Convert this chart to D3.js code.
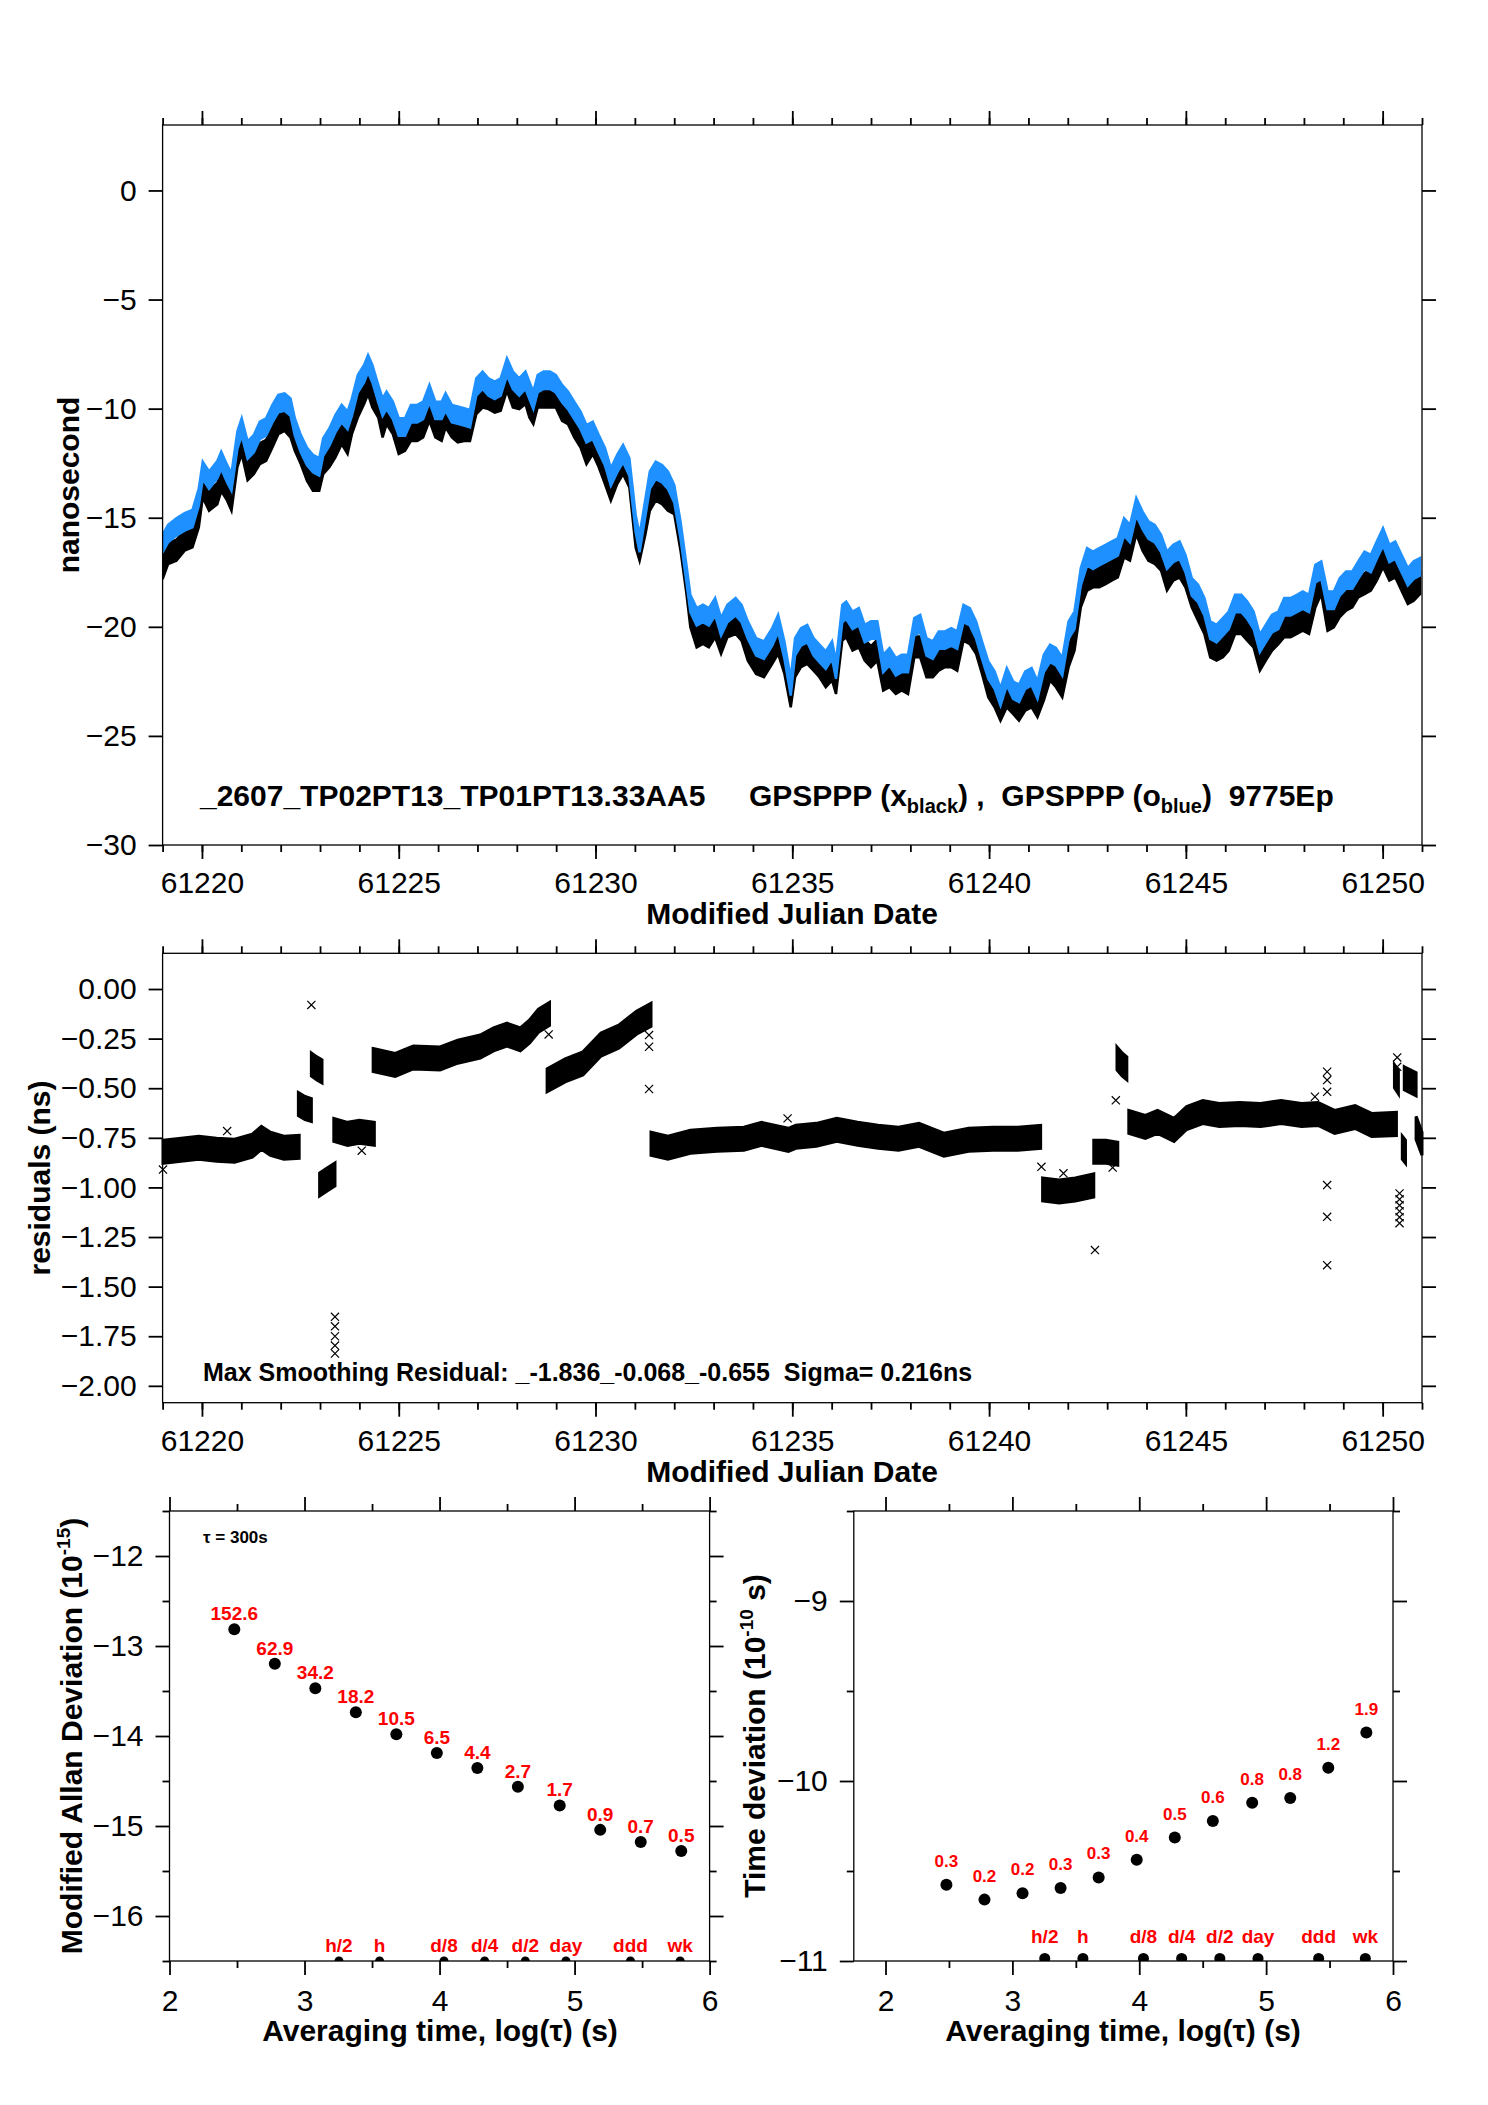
<!DOCTYPE html>
<html>
<head>
<meta charset="utf-8">
<script src="https://cdn.jsdelivr.net/npm/d3@7"></script>
<style>
  body { margin: 0; background: #fff; }
  svg { display: block; font-family: "Liberation Sans", Arial, Helvetica, sans-serif; }
  .bold { font-weight: bold; }
</style>
</head>
<body>
<svg id="chart" width="1488" height="2105"></svg>
<script>
// ---- top panel: clock offsets (ns) ----
const topDays = [
  61219.00,61219.14,61219.35,61219.56,61219.76,61219.92,61220.02,61220.18,61220.39,61220.49,
  61220.64,61220.75,61220.90,61221.01,61221.16,61221.32,61221.47,61221.63,61221.79,61221.94,
  61222.10,61222.25,61222.36,61222.51,61222.67,61222.82,61222.98,61223.08,61223.24,61223.39,
  61223.55,61223.70,61223.81,61223.96,61224.12,61224.22,61224.33,61224.48,61224.59,61224.69,
  61224.85,61225.00,61225.16,61225.31,61225.47,61225.62,61225.78,61225.93,61226.09,61226.19,
  61226.35,61226.50,61226.66,61226.81,61226.97,61227.13,61227.28,61227.44,61227.59,61227.75,
  61227.90,61228.06,61228.22,61228.32,61228.42,61228.53,61228.68,61228.84,61228.99,61229.15,
  61229.30,61229.46,61229.62,61229.77,61229.93,61230.08,61230.24,61230.39,61230.55,61230.70,
  61230.86,61231.02,61231.12,61231.27,61231.38,61231.53,61231.69,61231.84,61232.00,61232.16,
  61232.31,61232.41,61232.57,61232.73,61232.88,61233.04,61233.19,61233.35,61233.56,61233.71,
  61233.87,61234.08,61234.28,61234.49,61234.64,61234.80,61234.96,
  61235.07,61235.22,61235.38,61235.54,61235.69,61235.85,61236.01,61236.11,61236.27,61236.37,
  61236.53,61236.69,61236.84,61237.00,61237.16,61237.31,61237.47,61237.63,61237.78,61237.94,
  61238.10,61238.25,61238.41,61238.57,61238.72,61238.88,61239.04,61239.19,61239.35,61239.51,
  61239.67,61239.82,61239.98,61240.14,61240.29,61240.45,61240.61,61240.76,61240.92,61241.08,
  61241.23,61241.39,61241.55,61241.70,61241.86,61242.02,61242.17,61242.33,61242.49,61242.64,
  61242.80,61242.96,61243.11,61243.27,61243.43,61243.58,61243.74,61243.90,61244.05,61244.21,
  61244.37,61244.52,61244.68,61244.84,61244.99,61245.15,61245.31,61245.47,61245.62,61245.78,
  61245.94,61246.09,61246.25,61246.41,61246.56,61246.72,61246.88,61247.03,61247.19,61247.35,
  61247.50,61247.66,61247.82,61247.97,61248.13,61248.29,61248.44,61248.60,61248.76,61248.91,
  61249.07,61249.23,61249.38,61249.54,61249.70,61249.85,61250.01,61250.17,61250.32,61250.48,
  61250.64,61250.79,61250.95
];
const blackNs = [
  -17.33,-16.64,-16.49,-16.03,-15.88,-14.96,-13.59,-14.2,-13.9,-13.3,
  -13.74,-14.2,-12.2,-11.6,-12.8,-12.52,-12.06,-11.91,-11.3,-10.69,
  -10.54,-10.84,-11.45,-12.06,-12.83,-13.28,-13.28,-12.52,-12.2,-11.76,
  -11.15,-11.6,-10.69,-9.93,-9.31,-8.86,-9.47,-9.93,-10.84,-10.23,
  -10.69,-11.6,-11.45,-11.0,-11.0,-10.84,-10.08,-10.84,-11.0,-10.38,
  -10.84,-11.07,-11.0,-11.0,-9.77,-9.47,-9.54,-9.7,-9.62,-8.7,
  -9.47,-9.54,-9.31,-9.93,-10.23,-9.47,-9.47,-9.47,-9.47,-10.08,
  -10.23,-10.84,-11.3,-12.06,-11.6,-12.2,-12.98,-13.74,-12.98,-12.52,
  -13.13,-15.88,-16.49,-15.27,-14.2,-13.74,-13.9,-14.2,-14.35,-16.03,
  -18.0,-19.54,-20.46,-20.3,-20.46,-20.0,-20.76,-20.0,-19.85,-20.15,
  -21.07,-21.68,-21.83,-21.22,-20.76,-21.68,-23.21,
  -21.83,-21.37,-21.22,-21.53,-21.83,-22.29,-21.98,-22.6,-20.15,-20.0,
  -20.61,-20.46,-21.07,-21.37,-21.07,-22.44,-22.29,-22.6,-22.44,-22.6,
  -20.92,-20.92,-21.83,-21.83,-21.53,-21.37,-21.37,-21.53,-20.15,-20.31,
  -20.76,-21.68,-22.75,-23.21,-23.82,-23.21,-23.51,-23.82,-23.36,-23.21,
  -23.66,-22.9,-21.98,-22.29,-22.75,-21.37,-20.61,-18.63,-17.86,-17.71,
  -17.71,-17.56,-17.4,-17.25,-16.34,-16.49,-15.27,-16.03,-16.49,-16.64,
  -16.95,-17.86,-17.4,-17.25,-17.71,-18.63,-19.24,-19.85,-20.92,-21.07,
  -20.92,-20.61,-19.85,-19.85,-20.15,-20.46,-21.53,-21.07,-20.61,-20.31,
  -20.0,-20.0,-19.85,-19.7,-19.85,-18.63,-18.02,-19.7,-19.54,-19.08,
  -18.78,-18.63,-18.17,-18.02,-17.86,-17.4,-16.79,-17.4,-17.25,-17.86,
  -18.47,-18.32,-18.02
];
const blueNs = [
  -16.18,-15.73,-15.42,-15.19,-15.04,-14.05,-12.83,-13.28,-12.8,-12.37,
  -12.98,-13.36,-11.45,-10.84,-11.9,-11.6,-11.0,-10.84,-10.23,-9.77,
  -9.7,-9.93,-10.84,-11.6,-12.2,-12.52,-12.67,-11.76,-11.3,-10.69,
  -10.23,-10.54,-9.93,-8.86,-8.4,-7.94,-8.4,-9.31,-9.93,-9.62,
  -10.08,-10.84,-10.84,-10.23,-10.23,-10.08,-9.31,-10.08,-10.08,-9.7,
  -10.23,-10.3,-10.38,-10.46,-9.01,-8.7,-9.01,-9.16,-9.01,-8.09,
  -8.7,-9.01,-8.7,-9.16,-9.62,-8.86,-8.7,-8.7,-8.86,-9.31,
  -9.62,-10.08,-10.54,-11.15,-11.0,-11.6,-12.2,-13.13,-12.52,-12.06,
  -12.67,-15.27,-16.18,-14.5,-13.28,-12.83,-12.98,-13.28,-13.9,-15.57,
  -17.56,-18.93,-19.54,-19.39,-19.54,-19.08,-20.0,-19.39,-19.08,-19.39,
  -20.15,-20.92,-21.07,-20.46,-19.85,-21.07,-22.75,
  -20.92,-20.46,-20.31,-20.92,-21.22,-21.53,-21.07,-21.98,-19.39,-19.24,
  -19.7,-19.54,-20.31,-20.15,-20.15,-21.68,-21.37,-21.83,-21.68,-21.68,
  -20.0,-19.85,-20.92,-21.07,-20.61,-20.61,-20.46,-20.61,-19.39,-19.54,
  -20.15,-21.07,-21.98,-22.44,-23.21,-22.29,-22.9,-23.05,-22.44,-22.29,
  -22.9,-21.68,-21.22,-21.37,-21.83,-20.15,-19.7,-17.71,-16.79,-16.95,
  -16.79,-16.64,-16.49,-16.34,-15.42,-15.73,-14.5,-15.12,-15.57,-15.73,
  -16.18,-16.95,-16.64,-16.49,-17.1,-18.17,-18.47,-19.08,-20.15,-20.31,
  -20.0,-19.7,-18.93,-18.93,-19.24,-19.7,-20.76,-20.31,-19.85,-19.7,
  -19.08,-19.08,-18.93,-18.78,-18.93,-17.56,-17.4,-18.78,-18.78,-18.17,
  -17.86,-17.86,-17.4,-16.95,-17.1,-16.49,-15.88,-16.64,-16.49,-17.1,
  -17.71,-17.4,-17.25
];

// ---- middle panel: smoothing residuals (ns), null = gap between runs ----
const residDays = [
  61219.01,61219.47,61219.92,61220.37,61220.83,61221.28,61221.51,61221.74,61222.08,61222.47, null,
  61222.45,61222.62,61222.78, null,
  61222.78,61222.92,61223.05, null,
  61222.99,61223.18,61223.38, null,
  61223.35,61223.70,61224.00,61224.38, null,
  61224.35,61224.91,61225.37,61226.05,61226.50,61227.07,61227.41,61227.75,61228.09,61228.32,61228.55,61228.83, null,
  61228.77,61229.23,61229.68,61230.14,61230.59,61231.04,61231.41, null,
  61231.41,61231.84,61232.41,61233.09,61233.77,61234.22,61234.90,61235.09,61235.61,61236.13,
  61236.66,61237.18,61237.70,61238.22,61238.85,61239.48,61240.10,61240.73,61241.31, null,
  61241.36,61241.78,61242.19,61242.66, null,
  61242.66,61242.97,61243.27, null,
  61243.25,61243.38,61243.50, null,
  61243.55,61243.97,61244.28,61244.70,61245.02,61245.43,61245.85,61246.37,61246.90,61247.42,
  61247.94,61248.36,61248.78,61249.30,61249.72,61250.35, null,
  61250.30,61250.40, null,
  61250.55,61250.85, null,
  61250.50,61250.58, null,
  61250.85,61251.00
];
const residNs = [
  -0.82,-0.81,-0.80,-0.81,-0.815,-0.79,-0.75,-0.78,-0.80,-0.795, null,
  -0.58,-0.60,-0.61, null,
  -0.38,-0.40,-0.415, null,
  -0.985,-0.96,-0.935, null,
  -0.71,-0.73,-0.72,-0.73, null,
  -0.358,-0.383,-0.345,-0.35,-0.316,-0.29,-0.254,-0.23,-0.254,-0.215,-0.16,-0.126, null,
  -0.46,-0.41,-0.375,-0.28,-0.24,-0.17,-0.13, null,
  -0.78,-0.80,-0.77,-0.76,-0.755,-0.73,-0.76,-0.745,-0.735,-0.71,
  -0.73,-0.745,-0.755,-0.735,-0.785,-0.76,-0.755,-0.755,-0.745, null,
  -1.01,-1.02,-1.01,-0.99, null,
  -0.82,-0.82,-0.83, null,
  -0.35,-0.38,-0.40, null,
  -0.67,-0.695,-0.67,-0.71,-0.65,-0.62,-0.635,-0.63,-0.635,-0.62,
  -0.635,-0.63,-0.67,-0.645,-0.685,-0.68, null,
  -0.44,-0.47, null,
  -0.45,-0.48, null,
  -0.80,-0.82, null,
  -0.70,-0.78
];
const outlierDays = [
  61219.01,61220.64,61222.78,61223.38,61223.38,61223.38,61223.38,61223.38,61224.06,61228.81,
  61231.36,61231.36,61231.36,61234.88,61241.33,61241.89,61242.69,61243.14,61243.22,61248.28,
  61248.59,61248.59,61248.59,61248.59,61248.59,61248.59,61250.37,61250.37,
  61250.43,61250.43,61250.43,61250.43,61250.43,61250.43
];
const outlierNs = [
  -0.91,-0.716,-0.08,-1.652,-1.70,-1.75,-1.797,-1.837,-0.815,-0.229,
  -0.232,-0.291,-0.504,-0.652,-0.896,-0.929,-1.316,-0.90,-0.561,-0.543,
  -0.417,-0.459,-0.518,-0.988,-1.148,-1.392,-0.345,-0.392,
  -1.03,-1.06,-1.09,-1.12,-1.15,-1.18
];

// ---- bottom panels ----
const logTau = [2.48, 2.78, 3.08, 3.38, 3.68, 3.98, 4.28, 4.58, 4.89, 5.19, 5.49, 5.79];
const modAdev = [-12.815, -13.198, -13.47, -13.737, -13.98, -14.19, -14.356, -14.565, -14.771, -15.043, -15.179, -15.277];
const modAdevLabels = ["152.6", "62.9", "34.2", "18.2", "10.5", "6.5", "4.4", "2.7", "1.7", "0.9", "0.7", "0.5"];
const tdev = [-10.577, -10.659, -10.624, -10.595, -10.536, -10.437, -10.314, -10.222, -10.121, -10.094, -9.926, -9.731];
const tdevLabels = ["0.3", "0.2", "0.2", "0.3", "0.3", "0.4", "0.5", "0.6", "0.8", "0.8", "1.2", "1.9"];
const markTau = [3.255, 3.556, 4.033, 4.334, 4.635, 4.936, 5.414, 5.782];
const markNames = ["h/2", "h", "d/8", "d/4", "d/2", "day", "ddd", "wk"];

const svg = d3.select("#chart");
const FONT = '"Liberation Sans", Arial, Helvetica, sans-serif';

// ticks on all four sides, pointing outwards, plus a thin frame
function addAxes(x, y, o) {
  const [x0, x1] = x.range(), [y0, y1] = y.range();
  const g = svg.append("g");
  const sides = [
    [d3.axisBottom, `translate(0,${y0})`, x, o.xMinor, o.xMajor, o.xFmt, o.xPad],
    [d3.axisTop, `translate(0,${y1})`, x, o.xMinor, o.xMajor, null, 0],
    [d3.axisLeft, `translate(${x0},0)`, y, o.yMinor, o.yMajor, o.yFmt, 12],
    [d3.axisRight, `translate(${x1},0)`, y, o.yMinor, o.yMajor, null, 0]
  ];
  sides.forEach(([ax, tr, sc, minor, major, fmt, pad]) => {
    if (minor && minor.length) {
      g.append("g").attr("transform", tr)
        .call(ax(sc).tickValues(minor).tickSize(7).tickFormat(""));
    }
    g.append("g").attr("transform", tr)
      .call(ax(sc).tickValues(major).tickSize(14).tickPadding(pad).tickFormat(fmt ? fmt : ""));
  });
  g.selectAll(".domain").remove();
  g.selectAll(".tick line").attr("stroke", "#000").attr("stroke-width", 1.8);
  g.selectAll("g").attr("font-family", FONT).attr("font-size", 30);
  g.selectAll(".tick text").attr("fill", "#000");
  svg.append("rect")
    .attr("x", x0).attr("y", y1).attr("width", x1 - x0).attr("height", y0 - y1)
    .attr("fill", "none").attr("stroke", "#000").attr("stroke-width", 1.3);
}

function yTitle(x, y, parts) {
  const t = svg.append("text").attr("class", "bold").attr("font-size", 30)
    .attr("text-anchor", "middle").attr("transform", `translate(${x},${y}) rotate(-90)`);
  parts.forEach(p => {
    const s = t.append("tspan").text(p.t);
    if (p.sup) s.attr("font-size", 19).attr("dy", -12);
    if (p.back) s.attr("dy", 12);
  });
  return t;
}

// ================= panel 1 =================
const xMjd = d3.scaleLinear().domain([61219, 61251]).range([162.6, 1422]);
const yNs = d3.scaleLinear().domain([-30, 3]).range([845, 125]);
const dayMinor = d3.range(61219, 61252);
const dayMajor = [61220, 61225, 61230, 61235, 61240, 61245, 61250];

svg.append("clipPath").attr("id", "clipTop")
  .append("rect").attr("x", 162.6).attr("y", 125).attr("width", 1422 - 162.6).attr("height", 720);

// scatter spread of each series, drawn as a band around the read centre
const bandTop = (vals, half) => d3.area()
  .x((d, i) => xMjd(topDays[i]))
  .y0(d => yNs(d - half))
  .y1(d => yNs(d + half))(vals);

svg.append("path").attr("d", bandTop(blackNs, 0.48)).attr("clip-path", "url(#clipTop)")
  .attr("fill", "#000").attr("stroke", "#000").attr("stroke-width", 2.5);
svg.append("path").attr("d", bandTop(blueNs, 0.4)).attr("clip-path", "url(#clipTop)")
  .attr("fill", "#1E90FF").attr("stroke", "#1E90FF").attr("stroke-width", 2.5);

addAxes(xMjd, yNs, {
  xMinor: dayMinor, xMajor: dayMajor, xFmt: d3.format("d"), xPad: 13,
  yMinor: [], yMajor: [-30, -25, -20, -15, -10, -5, 0], yFmt: d3.format("d")
});

svg.append("text").attr("class", "bold").attr("font-size", 30)
  .attr("x", 200).attr("y", 806).text("_2607_TP02PT13_TP01PT13.33AA5");
const leg = svg.append("text").attr("class", "bold").attr("font-size", 30)
  .attr("x", 749).attr("y", 806).style("white-space", "pre");
leg.append("tspan").text("GPSPPP (x");
leg.append("tspan").attr("font-size", 20).attr("dy", 7).text("black");
leg.append("tspan").attr("dy", -7).text(") ,  GPSPPP (o");
leg.append("tspan").attr("font-size", 20).attr("dy", 7).text("blue");
leg.append("tspan").attr("dy", -7).text(")  9775Ep");

svg.append("text").attr("class", "bold").attr("font-size", 30).attr("text-anchor", "middle")
  .attr("x", 792).attr("y", 924).text("Modified Julian Date");
yTitle(79, 485, [{ t: "nanosecond" }]);

// ================= panel 2 =================
const yRes = d3.scaleLinear().domain([-2.085, 0.18]).range([1402.7, 953.3]);

const resBand = d3.area()
  .defined((d, i) => residNs[i] !== null)
  .x((d, i) => xMjd(residDays[i]))
  .y0((d, i) => yRes(residNs[i] - 0.058))
  .y1((d, i) => yRes(residNs[i] + 0.058));
svg.append("path").attr("d", resBand(residNs))
  .attr("fill", "#000").attr("stroke", "#000").attr("stroke-width", 3);

const xMark = d3.symbol(d3.symbolX, 45);
svg.append("g").selectAll("path").data(outlierNs).join("path")
  .attr("d", xMark)
  .attr("transform", (d, i) => `translate(${xMjd(outlierDays[i])},${yRes(d)})`)
  .attr("fill", "none").attr("stroke", "#000").attr("stroke-width", 1.2);

addAxes(xMjd, yRes, {
  xMinor: dayMinor, xMajor: dayMajor, xFmt: d3.format("d"), xPad: 13,
  yMinor: [], yMajor: d3.range(-8, 1).map(k => k * 0.25), yFmt: d3.format(".2f")
});

svg.append("text").attr("class", "bold").attr("font-size", 25).style("white-space", "pre")
  .attr("x", 203).attr("y", 1381).text("Max Smoothing Residual: _-1.836_-0.068_-0.655  Sigma= 0.216ns");
svg.append("text").attr("class", "bold").attr("font-size", 30).attr("text-anchor", "middle")
  .attr("x", 792).attr("y", 1482).text("Modified Julian Date");
yTitle(50, 1178, [{ t: "residuals (ns)" }]);

// ================= panel 3: modified Allan deviation =================
const xL = d3.scaleLinear().domain([2, 6]).range([169.5, 709.6]);
const yL = d3.scaleLinear().domain([-16.5, -11.5]).range([1961, 1511]);

svg.append("clipPath").attr("id", "clipL")
  .append("rect").attr("x", 169.5).attr("y", 1511).attr("width", 709.6 - 169.5).attr("height", 450);

svg.append("g").attr("clip-path", "url(#clipL)").selectAll("circle").data(markTau).join("circle")
  .attr("cx", d => xL(d)).attr("cy", yL(-16.5)).attr("r", 4.5).attr("fill", "#000");
svg.append("g").selectAll("text").data(markNames).join("text")
  .attr("class", "bold").attr("font-size", 19).attr("fill", "#ff0000").attr("text-anchor", "middle")
  .attr("x", (d, i) => xL(markTau[i])).attr("y", 1952).text(d => d);

svg.append("g").selectAll("circle").data(modAdev).join("circle")
  .attr("cx", (d, i) => xL(logTau[i])).attr("cy", d => yL(d)).attr("r", 6).attr("fill", "#000");
svg.append("g").selectAll("text").data(modAdevLabels).join("text")
  .attr("class", "bold").attr("font-size", 19).attr("fill", "#ff0000").attr("text-anchor", "middle")
  .attr("x", (d, i) => xL(logTau[i])).attr("y", (d, i) => yL(modAdev[i]) - 9).text(d => d);

addAxes(xL, yL, {
  xMinor: [2.5, 3.5, 4.5, 5.5], xMajor: [2, 3, 4, 5, 6], xFmt: d3.format("d"), xPad: 15,
  yMinor: [-16.5, -15.5, -14.5, -13.5, -12.5, -11.5], yMajor: [-16, -15, -14, -13, -12], yFmt: d3.format("d")
});

svg.append("text").attr("class", "bold").attr("font-size", 17)
  .attr("x", 203).attr("y", 1543).text("τ = 300s");
svg.append("text").attr("class", "bold").attr("font-size", 30).attr("text-anchor", "middle")
  .attr("x", 440).attr("y", 2041).text("Averaging time, log(τ) (s)");
yTitle(82, 1736, [{ t: "Modified Allan Deviation (10" }, { t: "-15", sup: true }, { t: ")", back: true }]);

// ================= panel 4: time deviation =================
const xR = d3.scaleLinear().domain([1.75, 6]).range([853.8, 1393]);
const yR = d3.scaleLinear().domain([-11, -8.5]).range([1961, 1511]);

svg.append("clipPath").attr("id", "clipR")
  .append("rect").attr("x", 853.8).attr("y", 1511).attr("width", 1393 - 853.8).attr("height", 450);

svg.append("g").attr("clip-path", "url(#clipR)").selectAll("circle").data(markTau).join("circle")
  .attr("cx", d => xR(d)).attr("cy", yR(-11) - 2.5).attr("r", 5.5).attr("fill", "#000");
svg.append("g").selectAll("text").data(markNames).join("text")
  .attr("class", "bold").attr("font-size", 19).attr("fill", "#ff0000").attr("text-anchor", "middle")
  .attr("x", (d, i) => xR(markTau[i])).attr("y", 1943).text(d => d);

svg.append("g").selectAll("circle").data(tdev).join("circle")
  .attr("cx", (d, i) => xR(logTau[i])).attr("cy", d => yR(d)).attr("r", 6).attr("fill", "#000");
svg.append("g").selectAll("text").data(tdevLabels).join("text")
  .attr("class", "bold").attr("font-size", 17).attr("fill", "#ff0000").attr("text-anchor", "middle")
  .attr("x", (d, i) => xR(logTau[i])).attr("y", (d, i) => yR(tdev[i]) - 18).text(d => d);

addAxes(xR, yR, {
  xMinor: [2.5, 3.5, 4.5, 5.5], xMajor: [2, 3, 4, 5, 6], xFmt: d3.format("d"), xPad: 15,
  yMinor: [-10.5, -9.5, -8.5], yMajor: [-11, -10, -9], yFmt: d3.format("d")
});

svg.append("text").attr("class", "bold").attr("font-size", 30).attr("text-anchor", "middle")
  .attr("x", 1123).attr("y", 2041).text("Averaging time, log(τ) (s)");
yTitle(765, 1736, [{ t: "Time deviation (10" }, { t: "-10", sup: true }, { t: " s)", back: true }]);
</script>
</body>
</html>
